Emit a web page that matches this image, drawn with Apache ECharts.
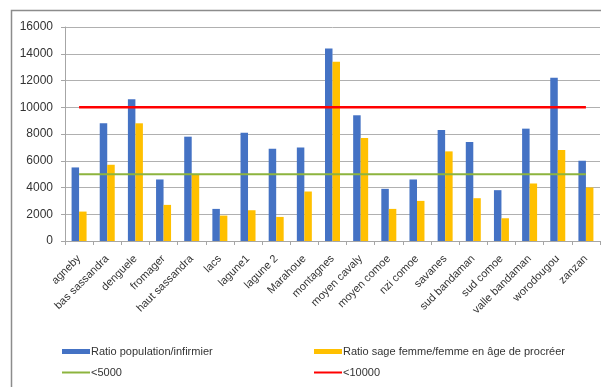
<!DOCTYPE html>
<html>
<head>
<meta charset="utf-8">
<script src="https://cdn.jsdelivr.net/npm/echarts@6/dist/echarts.min.js"></script>
<style>
  html, body { margin: 0; padding: 0; background: #fff; }
  #chart { width: 601px; height: 387px; }
</style>
</head>
<body>
<div id="chart"></div>
<script>
// Regions
const regions = [
  'agneby', 'bas sassandra', 'denguele', 'fromager', 'haut sassandra', 'lacs',
  'lagune1', 'lagune 2', 'Marahoue', 'montagnes', 'moyen cavaly', 'moyen comoe',
  'nzi comoe', 'savanes', 'sud bandaman', 'sud comoe', 'valle bandaman',
  'worodougou', 'zanzan'
];

// Population per nurse
const ratioInfirmier = [
  5500, 8800, 10600, 4600, 7800, 2400, 8100, 6900, 7000, 14400,
  9400, 3900, 4600, 8300, 7400, 3800, 8400, 12200, 6000
];

// Women of childbearing age per midwife
const ratioSageFemme = [
  2200, 5700, 8800, 2700, 4950, 1900, 2300, 1800, 3700, 13400,
  7700, 2400, 3000, 6700, 3200, 1700, 4300, 6800, 4000
];

// Reference thresholds
const seuil5000 = 5000;
const seuil10000 = 10000;

const yTicks = { min: 0, max: 16000, interval: 2000 };

const font = '"Liberation Sans", Arial, sans-serif';
const textColor = '#333';
const chart = echarts.init(document.getElementById('chart'));

function legendBlock(left, top, name, h) {
  return {
    left: left, top: top, padding: 0, itemWidth: 28, itemHeight: h,
    textStyle: { fontSize: 11, color: textColor, fontFamily: font, padding: [0, 0, 0, -4] },
    data: [{ name: name, icon: 'rect' }]
  };
}

chart.setOption({
  animation: false,
  textStyle: { fontFamily: font },
  graphic: [{
    type: 'rect',
    shape: { x: 11.5, y: 10.5, width: 620, height: 400 },
    style: { fill: 'none', stroke: '#8c8c8c', lineWidth: 1.5 },
    silent: true,
    z: -1
  }],
  grid: { left: 65, right: 1, top: 27, bottom: 146 },
  legend: [
    legendBlock(62, 346, 'Ratio population/infirmier', 5),
    legendBlock(314, 346, 'Ratio sage femme/femme en âge de procréer', 5),
    legendBlock(62, 367, '<5000', 2),
    legendBlock(314, 367, '<10000', 2)
  ],
  xAxis: {
    type: 'category',
    data: regions,
    axisLine: { lineStyle: { color: '#a6a6a6' } },
    axisTick: { show: true, length: 4, lineStyle: { color: '#a6a6a6' } },
    axisLabel: {
      rotate: 45, interval: 0, margin: 16,
      fontSize: 11, color: textColor, fontFamily: font
    }
  },
  yAxis: {
    type: 'value',
    min: yTicks.min, max: yTicks.max, interval: yTicks.interval,
    axisLine: { show: true, lineStyle: { color: '#a6a6a6' } },
    axisTick: { show: true, length: 4, lineStyle: { color: '#a6a6a6' } },
    axisLabel: {
      fontSize: 12, color: textColor, margin: 12, fontFamily: font,
      formatter: v => String(v)
    },
    splitLine: { lineStyle: { color: '#b0b0b0' } }
  },
  series: [{
    name: 'Ratio population/infirmier',
    type: 'bar',
    data: ratioInfirmier,
    barWidth: 7.5,
    barGap: '0%',
    itemStyle: { color: '#4472C4' }
  }, {
    name: 'Ratio sage femme/femme en âge de procréer',
    type: 'bar',
    data: ratioSageFemme,
    barWidth: 7.5,
    itemStyle: { color: '#FFC000' }
  }, {
    name: '<5000',
    type: 'line',
    data: regions.map(() => seuil5000),
    showSymbol: false,
    symbol: 'none',
    lineStyle: { color: '#8DB43E', width: 2 },
    itemStyle: { color: '#8DB43E' },
    z: 5
  }, {
    name: '<10000',
    type: 'line',
    data: regions.map(() => seuil10000),
    showSymbol: false,
    symbol: 'none',
    lineStyle: { color: '#FF0000', width: 2.5 },
    itemStyle: { color: '#FF0000' },
    z: 5
  }]
});
</script>
</body>
</html>
